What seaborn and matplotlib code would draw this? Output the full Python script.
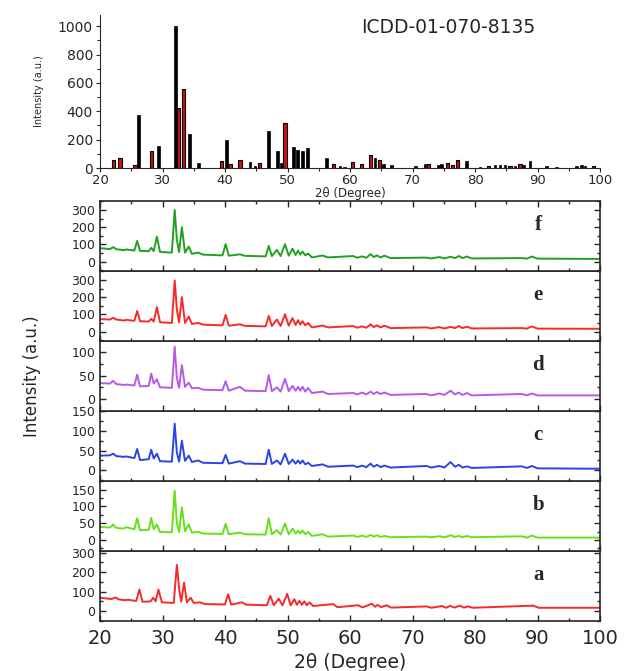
import numpy as np
import pandas as pd
import seaborn as sns
import matplotlib.pyplot as plt
from matplotlib.ticker import MultipleLocator

# stick pattern ICDD-01-070-8135 (position 2theta, relative intensity)
ref_black_pos = [26.1, 29.3, 32.1, 34.3, 35.8, 40.3, 44.0, 44.8, 46.9, 48.4, 49.0, 50.9, 51.6,
                 52.4, 53.2, 56.2, 58.4, 59.1, 64.0, 65.4, 66.7, 70.5, 72.0, 74.1, 74.7, 78.6,
                 80.8, 83.2, 84.0, 84.8, 86.4, 87.7, 88.8, 91.5, 93.1, 96.3, 97.0, 97.6]
ref_black_int = [373, 155, 1000, 242, 35, 197, 42, 12, 261, 120, 35, 148, 124,
                 120, 143, 68, 16, 9, 70, 30, 19, 16, 30, 23, 30, 49,
                 9, 19, 23, 23, 12, 23, 52, 12, 6, 12, 19, 16]
ref_red_pos = [22.1, 23.2, 25.6, 28.3, 32.5, 33.3, 39.5, 40.8, 42.4, 45.5, 49.6, 57.3, 60.35,
               61.9, 63.3, 64.7, 72.6, 75.6, 76.4, 77.2, 82.1, 85.6, 87.2, 98.9]
ref_red_int = [59, 70, 19, 120, 425, 561, 49, 30, 54, 35, 317, 30, 42,
               30, 94, 59, 26, 38, 23, 59, 14, 12, 28, 14]

# 2theta points
tt = [20.0, 21.6, 22.1, 22.6, 23.8, 24.2, 25.5, 25.95, 26.4, 27.8, 28.2, 28.6, 29.1, 29.6,
      31.5, 31.95, 32.3, 32.65, 33.1, 33.6, 34.2, 34.7, 35.7, 36.5, 39.6, 40.1, 40.6, 42.4,
      43.2, 46.5, 47.0, 47.5, 48.3, 48.9, 49.6, 50.2, 50.8, 51.3, 51.7, 52.05, 52.4, 52.85,
      53.3, 53.9, 55.6, 56.5, 60.5, 61.2, 61.9, 62.6, 63.3, 63.8, 64.3, 64.9, 65.5, 66.5,
      72.2, 73.0, 74.3, 75.1, 76.1, 76.8, 77.4, 78.0, 78.7, 79.5, 87.5, 88.3, 89.1, 90.0, 100.0]

f_int = [78, 72, 84, 72, 66, 70, 64, 120, 62, 60, 80, 60, 145, 56,
         52, 300, 126, 55, 200, 52, 87, 45, 52, 40, 36, 101, 34, 42,
         33, 30, 91, 32, 68, 32, 101, 34, 75, 38, 64, 40, 58, 36,
         46, 24, 35, 24, 32, 22, 30, 22, 43, 26, 36, 24, 34, 20,
         23, 18, 26, 18, 28, 20, 32, 20, 29, 18, 20, 17, 29, 17, 15]
e_int = [72, 70, 80, 70, 64, 68, 62, 120, 60, 58, 74, 58, 142, 54,
         50, 297, 126, 54, 200, 50, 87, 44, 50, 40, 36, 97, 34, 42,
         33, 30, 91, 32, 70, 32, 101, 34, 78, 38, 66, 40, 60, 36,
         50, 24, 35, 24, 32, 22, 30, 22, 42, 26, 36, 24, 34, 20,
         24, 18, 26, 18, 27, 20, 32, 20, 28, 18, 20, 17, 30, 17, 16]
d_int = [34, 33, 39, 32, 30, 31, 29, 52, 27, 28, 54, 33, 42, 25,
         24, 111, 45, 24, 72, 26, 35, 23, 24, 20, 19, 38, 18, 26,
         18, 17, 51, 17, 25, 16, 43, 17, 28, 18, 26, 18, 26, 16,
         24, 13, 16, 11, 13, 10, 14, 10, 16, 11, 15, 11, 14, 9,
         11, 8, 12, 9, 18, 10, 14, 9, 13, 8, 11, 8, 12, 8, 8]
c_int = [37, 38, 42, 36, 34, 35, 31, 54, 26, 28, 52, 30, 42, 23,
         22, 118, 45, 22, 75, 24, 37, 21, 25, 19, 18, 39, 17, 23,
         17, 16, 52, 16, 25, 15, 42, 16, 27, 17, 25, 17, 25, 15,
         19, 11, 15, 9, 12, 8, 12, 8, 17, 9, 14, 8, 12, 7,
         11, 7, 11, 7, 21, 9, 14, 7, 10, 6, 10, 6, 11, 5, 4]
b_int = [39, 37, 46, 36, 34, 38, 32, 65, 29, 30, 66, 32, 46, 24,
         23, 147, 50, 24, 97, 26, 46, 22, 24, 19, 18, 48, 17, 22,
         17, 16, 65, 17, 29, 16, 49, 17, 34, 19, 28, 19, 28, 17,
         24, 12, 17, 10, 13, 9, 13, 9, 15, 10, 14, 9, 12, 8,
         10, 8, 11, 8, 14, 9, 12, 8, 12, 8, 11, 7, 13, 7, 7]

# pattern a is shifted to slightly higher angles
tt_a = [20.0, 21.8, 22.5, 23.0, 24.0, 24.5, 25.8, 26.3, 26.8, 28.1, 28.5, 28.9, 29.35, 29.9,
        31.8, 32.3, 32.7, 33.0, 33.45, 33.9, 34.5, 35.0, 36.0, 36.8, 40.0, 40.5, 41.0, 42.7,
        43.4, 46.7, 47.25, 47.8, 48.6, 49.2, 49.95, 50.5, 51.1, 51.5, 51.9, 52.3, 52.7, 53.1,
        53.5, 54.1, 57.3, 58.0, 61.3, 62.0, 63.5, 64.0, 64.4, 65.0, 65.8, 66.6,
        72.3, 73.0, 74.7, 75.4, 76.0, 76.7, 77.6, 78.2, 78.9, 79.6, 89.3, 90.2, 100.0]
a_int = [69, 62, 70, 60, 56, 58, 52, 111, 48, 50, 69, 50, 111, 45,
         42, 238, 102, 48, 147, 45, 69, 42, 45, 36, 34, 86, 33, 45,
         33, 30, 78, 30, 64, 30, 89, 30, 61, 32, 53, 32, 50, 30,
         45, 26, 36, 20, 30, 19, 38, 22, 32, 20, 30, 18,
         24, 17, 26, 17, 27, 18, 28, 18, 24, 17, 28, 17, 17]

sns.set_style("ticks")
plt.rcParams['font.family'] = ['DejaVu Sans']

fig = plt.figure(figsize=(6.38, 6.71), dpi=100)
L, W = 100 / 638, 500 / 638

# ---- top: reference stick pattern
ax0 = fig.add_axes([L, (671 - 168) / 671, W, 153 / 671])
ax0.bar(ref_black_pos, ref_black_int, width=0.45, color='black', edgecolor='black', lw=0.5)
ax0.bar(ref_red_pos, ref_red_int, width=0.5, color='#d01010', edgecolor='black', lw=0.8)
ax0.set_xlim(20, 100)
ax0.set_ylim(0, 1080)
sns.despine(ax=ax0)
ax0.xaxis.set_major_locator(MultipleLocator(10))
ax0.xaxis.set_minor_locator(MultipleLocator(5))
ax0.yaxis.set_major_locator(MultipleLocator(200))
ax0.yaxis.set_minor_locator(MultipleLocator(100))
ax0.tick_params(which='both', direction='out', labelsize=10, width=0.8, pad=2)
ax0.tick_params(axis='x', labelsize=9.5, pad=1)
ax0.tick_params(which='major', length=3)
ax0.tick_params(which='minor', length=2)
ax0.set_xlabel('2θ (Degree)', fontsize=8.5, labelpad=0, va='top')
ax0.xaxis.set_label_coords(0.5, -0.125)
ax0.set_ylabel('Intensity (a.u.)', fontsize=7, labelpad=10)
ax0.text(75.7, 993, 'ICDD-01-070-8135', fontsize=13.5, ha='center', va='center')

# ---- bottom: measured patterns a-f
panels = [
    ('a', tt_a, a_int, '#f52a2a', (-51, 309), 100, 50),
    ('b', tt, b_int, '#66e01a', (-33, 176), 50, 25),
    ('c', tt, c_int, '#2c44e6', (-27, 150), 50, 25),
    ('d', tt, d_int, '#b45be6', (-25, 123), 50, 25),
    ('e', tt, e_int, '#f52a2a', (-55, 352), 100, 50),
    ('f', tt, f_int, '#22a022', (-55, 352), 100, 50),
]
H = 70 / 671
B0 = (671 - 621) / 671
for i, (lab, x, y, col, lim, maj, mnr) in enumerate(panels):
    ax = fig.add_axes([L, B0 + i * H, W, H])
    sns.lineplot(x=x, y=y, ax=ax, color=col, lw=1.4)
    ax.set_xlim(20, 100)
    ax.set_ylim(*lim)
    ax.xaxis.set_major_locator(MultipleLocator(10))
    ax.xaxis.set_minor_locator(MultipleLocator(5))
    ax.yaxis.set_major_locator(MultipleLocator(maj))
    ax.yaxis.set_minor_locator(MultipleLocator(mnr))
    ax.tick_params(which='both', direction='in', right=True, top=(lab == 'f'),
                   labelsize=9, width=1)
    ax.tick_params(which='major', length=4)
    ax.tick_params(which='minor', length=2)
    for s in ax.spines.values():
        s.set_linewidth(1.2)
    ax.set_xlabel('')
    ax.set_ylabel('')
    if lab != 'a':
        ax.tick_params(labelbottom=False)
    else:
        ax.tick_params(axis='x', labelsize=14, pad=6)
        ax.set_xlabel('2θ (Degree)', fontsize=13.5, labelpad=3)
    ax.text(90.1, lim[0] + 0.65 * (lim[1] - lim[0]), lab, fontsize=15, fontweight='bold',
            family=['Liberation Serif', 'DejaVu Serif'], ha='center', va='center')

fig.text(0.05, 1 - 376 / 671, 'Intensity (a.u.)', rotation=90, fontsize=12,
         ha='center', va='center')

fig.savefig('out.png', dpi=100)
